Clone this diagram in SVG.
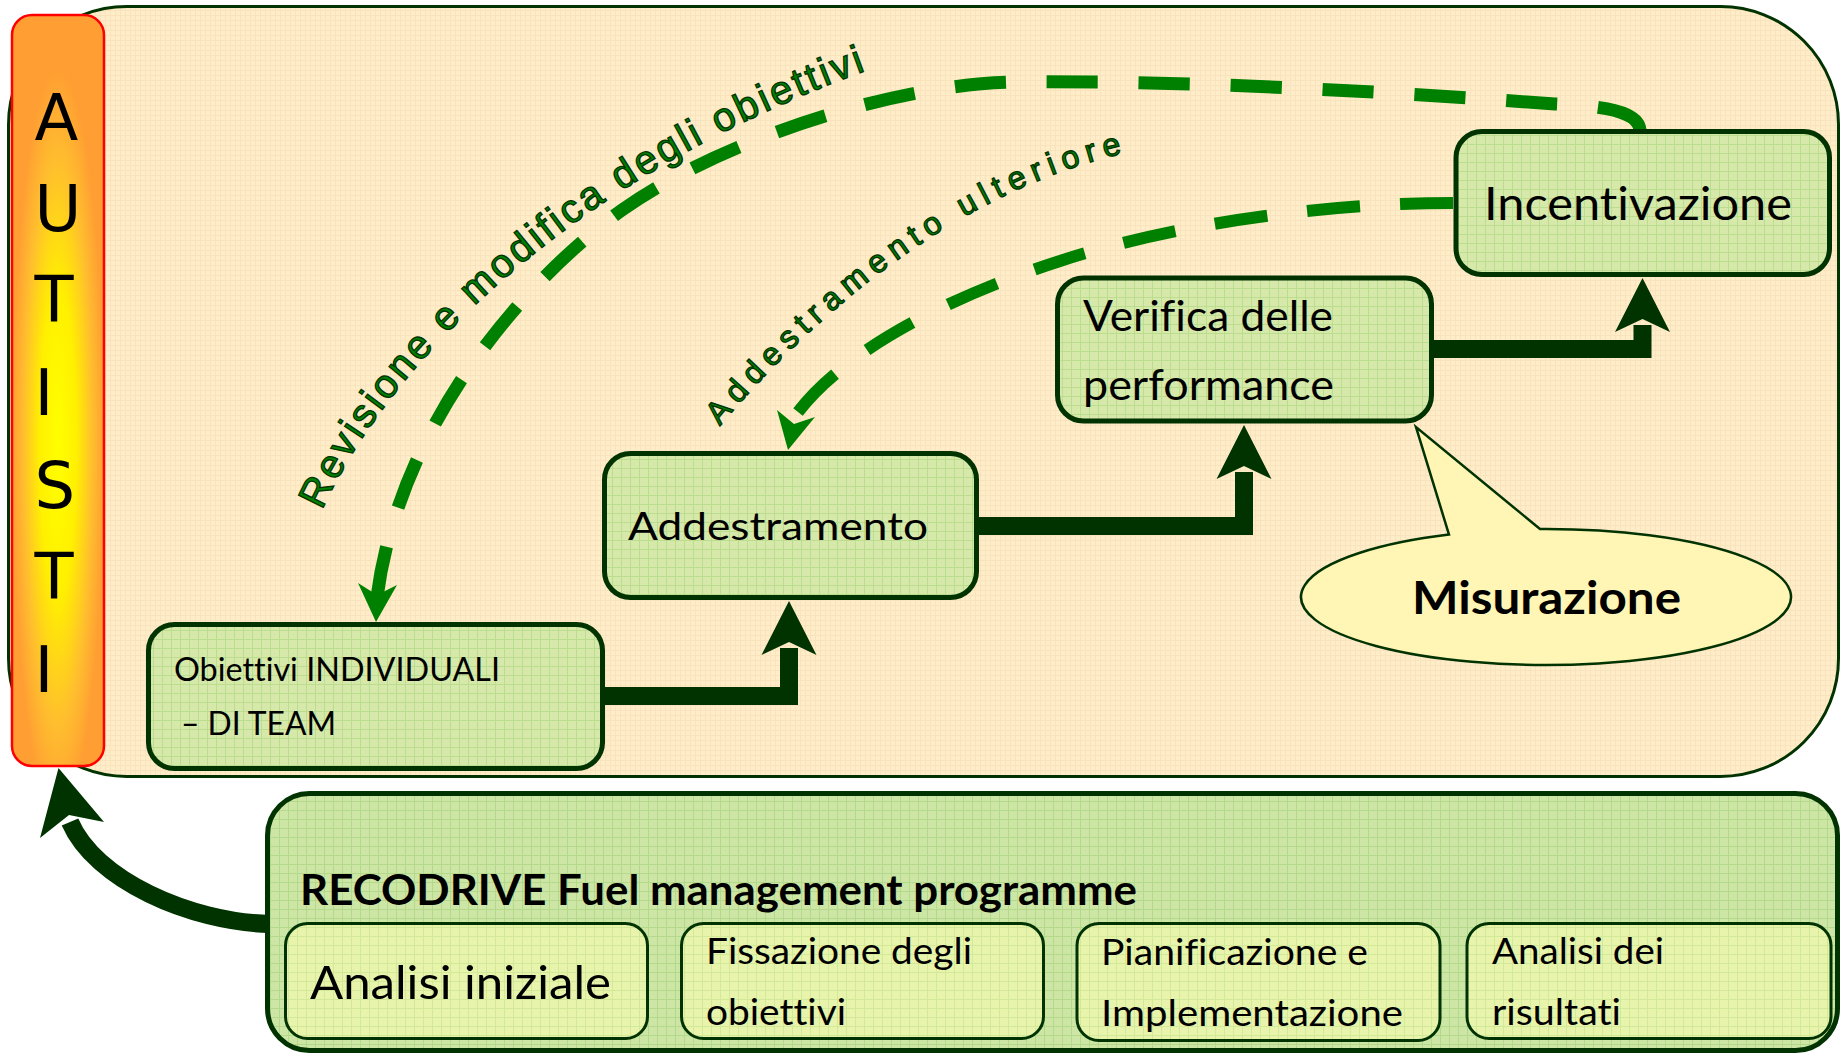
<svg xmlns="http://www.w3.org/2000/svg" width="1841" height="1055" viewBox="0 0 1841 1055">
<defs>
<style>
.node{stroke:#003300;stroke-width:5;fill:url(#gNode)}
.inner{stroke:#003300;stroke-width:3;fill:url(#gInner)}
.t{font-family:Lato,"Open Sans","Liberation Sans",sans-serif;fill:#000;font-variant-ligatures:none}
.b{font-weight:bold}
.flow{fill:none;stroke:#003300;stroke-width:18;stroke-linejoin:miter}
.head{fill:#003300}
.dashA{fill:none;stroke:#008000;stroke-width:13;stroke-dasharray:52 41.5}
.dashB{fill:none;stroke:#008000;stroke-width:12;stroke-dasharray:53 40}
.dhead{fill:#008000}
.lbl{font-family:"Liberation Sans",Arial,sans-serif;fill:#008000;stroke:#003300;stroke-width:1.3}
.aut{font-family:"DejaVu Sans",Verdana,sans-serif;font-size:64px;fill:#000}
</style>
<pattern id="gBeige" width="5" height="5" patternUnits="userSpaceOnUse">
<rect width="5" height="5" fill="#FFEDC9"/>
<path d="M0 0.5H5M0.5 0V5" stroke="#F9E3BC" stroke-width="1"/>
</pattern>
<pattern id="gNode" width="9" height="9" patternUnits="userSpaceOnUse">
<rect width="9" height="9" fill="#D6E9AA"/>
<path d="M0 0.5H9M0.5 0V9" stroke="#BADD8E" stroke-width="1"/>
</pattern>
<pattern id="gPanel" width="9" height="9" patternUnits="userSpaceOnUse">
<rect width="9" height="9" fill="#CDE6A6"/>
<path d="M0 0.5H9M0.5 0V9" stroke="#B3D98A" stroke-width="1"/>
</pattern>
<pattern id="gInner" width="9" height="9" patternUnits="userSpaceOnUse">
<rect width="9" height="9" fill="#E8F4AC"/>
<path d="M0 0.5H9M0.5 0V9" stroke="#D2E99A" stroke-width="1"/>
</pattern>
<radialGradient id="gBar" cx="0.5" cy="0.57" r="0.5">
<stop offset="0" stop-color="#FFFF00"/>
<stop offset="0.4" stop-color="#FFF000"/>
<stop offset="0.75" stop-color="#FFBE2E"/>
<stop offset="1" stop-color="#FF9E33"/>
</radialGradient>
<path id="pathA" d="M 322 510 C 386 370 562 180 868 70 L 940 46"/>
<path id="pathB" d="M 720 426 C 800 330 950 190 1130 152 L 1190 142"/>
</defs>
<rect width="1841" height="1055" fill="#FFFFFF"/>

<g id="panel-main">
<rect x="8.5" y="6.5" width="1830" height="770" rx="118" ry="118" fill="url(#gBeige)" stroke="#003300" stroke-width="3"/>
</g>

<g id="connectors">
<path class="flow" d="M 270 924 C 190 922 95 880 70 822" stroke-width="21"/>
<polygon class="head" points="58.5,768 40,838 69,815 104,822"/>
<path class="flow" d="M 603 696 H 789 V 648"/>
<polygon class="head" points="789,601 761.5,655 789,642 816.5,655"/>
<path class="flow" d="M 977 526 H 1244 V 472"/>
<polygon class="head" points="1244,425 1216.5,479 1244,466 1271.5,479"/>
<path class="flow" d="M 1432 349 H 1642.5 V 325"/>
<polygon class="head" points="1642.5,278 1615,332 1642.5,319 1670,332"/>
<path class="dashA" pathLength="1548" d="M 1640 130 C 1638 110 1600 106 1555 104 C 1420 94 1200 80 1020 82 C 900 82 720 140 622 210 C 530 276 400 420 377 597"/>
<polygon class="dhead" points="376,622 358,583 377,595 397,585"/>
<path class="dashB" pathLength="704" d="M 1453 203 C 1330 203 1180 222 1060 261 C 960 293 850 345 798 412"/>
<polygon class="dhead" points="788,450 777,410 794,424 815,417"/>
</g>

<g id="labels">
<text class="lbl" font-size="40"><textPath href="#pathA" textLength="716" lengthAdjust="spacing">Revisione e modifica degli obiettivi</textPath></text>
<text class="lbl" font-size="32"><textPath href="#pathB" textLength="494" lengthAdjust="spacing">Addestramento ulteriore</textPath></text>
</g>

<g id="node-autisti">
<rect x="12" y="15" width="92" height="751" rx="20" ry="20" fill="url(#gBar)" stroke="#FF0000" stroke-width="2.5"/>
<text class="aut"><tspan x="34.5" y="139.5">A</tspan><tspan x="34.5" y="231">U</tspan><tspan x="34.5" y="322">T</tspan><tspan x="34.5" y="415">I</tspan><tspan x="34.5" y="508">S</tspan><tspan x="34.5" y="599">T</tspan><tspan x="34.5" y="692">I</tspan></text>
</g>

<g id="node-obiettivi">
<rect class="node" x="148.5" y="624.5" width="454" height="144" rx="26"/>
<text class="t" x="174" y="681" font-size="33" textLength="326" lengthAdjust="spacingAndGlyphs">Obiettivi INDIVIDUALI</text>
<text class="t" x="181" y="735" font-size="33" textLength="155" lengthAdjust="spacingAndGlyphs">– DI TEAM</text>
</g>

<g id="node-addestramento">
<rect class="node" x="604.5" y="453.5" width="372" height="144" rx="26"/>
<text class="t" x="628" y="540" font-size="39.5" textLength="300" lengthAdjust="spacingAndGlyphs">Addestramento</text>
</g>

<g id="node-verifica">
<rect class="node" x="1057.5" y="278" width="374" height="143" rx="26"/>
<text class="t" x="1083" y="331" font-size="42" textLength="250" lengthAdjust="spacingAndGlyphs">Verifica delle</text>
<text class="t" x="1083" y="399.5" font-size="42" textLength="251" lengthAdjust="spacingAndGlyphs">performance</text>
</g>

<g id="node-incentivazione">
<rect class="node" x="1456" y="131.5" width="373.5" height="143" rx="26"/>
<text class="t" x="1484" y="220" font-size="46" textLength="308" lengthAdjust="spacingAndGlyphs">Incentivazione</text>
</g>

<g id="node-misurazione">
<path d="M 1449 534.56 L 1416 427 L 1540 529.02 A 245 68 0 1 1 1449 534.56 Z" fill="#FFF5B4" stroke="#003300" stroke-width="2.5" stroke-linejoin="miter"/>
<text class="t b" x="1412" y="614" font-size="46" textLength="269" lengthAdjust="spacingAndGlyphs">Misurazione</text>
</g>

<g id="node-recodrive">
<rect x="267.5" y="793.5" width="1570" height="257" rx="42" fill="url(#gPanel)" stroke="#003300" stroke-width="5"/>
<text class="t b" x="300" y="905" font-size="42" textLength="837" lengthAdjust="spacingAndGlyphs">RECODRIVE Fuel management programme</text>
</g>

<g id="node-analisi">
<rect class="inner" x="285.5" y="923.5" width="362" height="115" rx="22"/>
<text class="t" x="310" y="999" font-size="47" textLength="301" lengthAdjust="spacingAndGlyphs">Analisi iniziale</text>
</g>

<g id="node-fissazione">
<rect class="inner" x="681.5" y="923.5" width="362" height="115" rx="22"/>
<text class="t" x="706" y="964" font-size="37.5" textLength="266" lengthAdjust="spacingAndGlyphs">Fissazione degli</text>
<text class="t" x="706" y="1025" font-size="37.5" textLength="140" lengthAdjust="spacingAndGlyphs">obiettivi</text>
</g>

<g id="node-pianificazione">
<rect class="inner" x="1077" y="923.5" width="363" height="117" rx="22"/>
<text class="t" x="1101" y="965" font-size="37.5" textLength="267" lengthAdjust="spacingAndGlyphs">Pianificazione e</text>
<text class="t" x="1101" y="1026" font-size="37.5" textLength="302" lengthAdjust="spacingAndGlyphs">Implementazione</text>
</g>

<g id="node-risultati">
<rect class="inner" x="1467" y="923.5" width="364" height="115" rx="22"/>
<text class="t" x="1492" y="964" font-size="37.5" textLength="172" lengthAdjust="spacingAndGlyphs">Analisi dei</text>
<text class="t" x="1492" y="1025" font-size="37.5" textLength="129" lengthAdjust="spacingAndGlyphs">risultati</text>
</g>
</svg>
